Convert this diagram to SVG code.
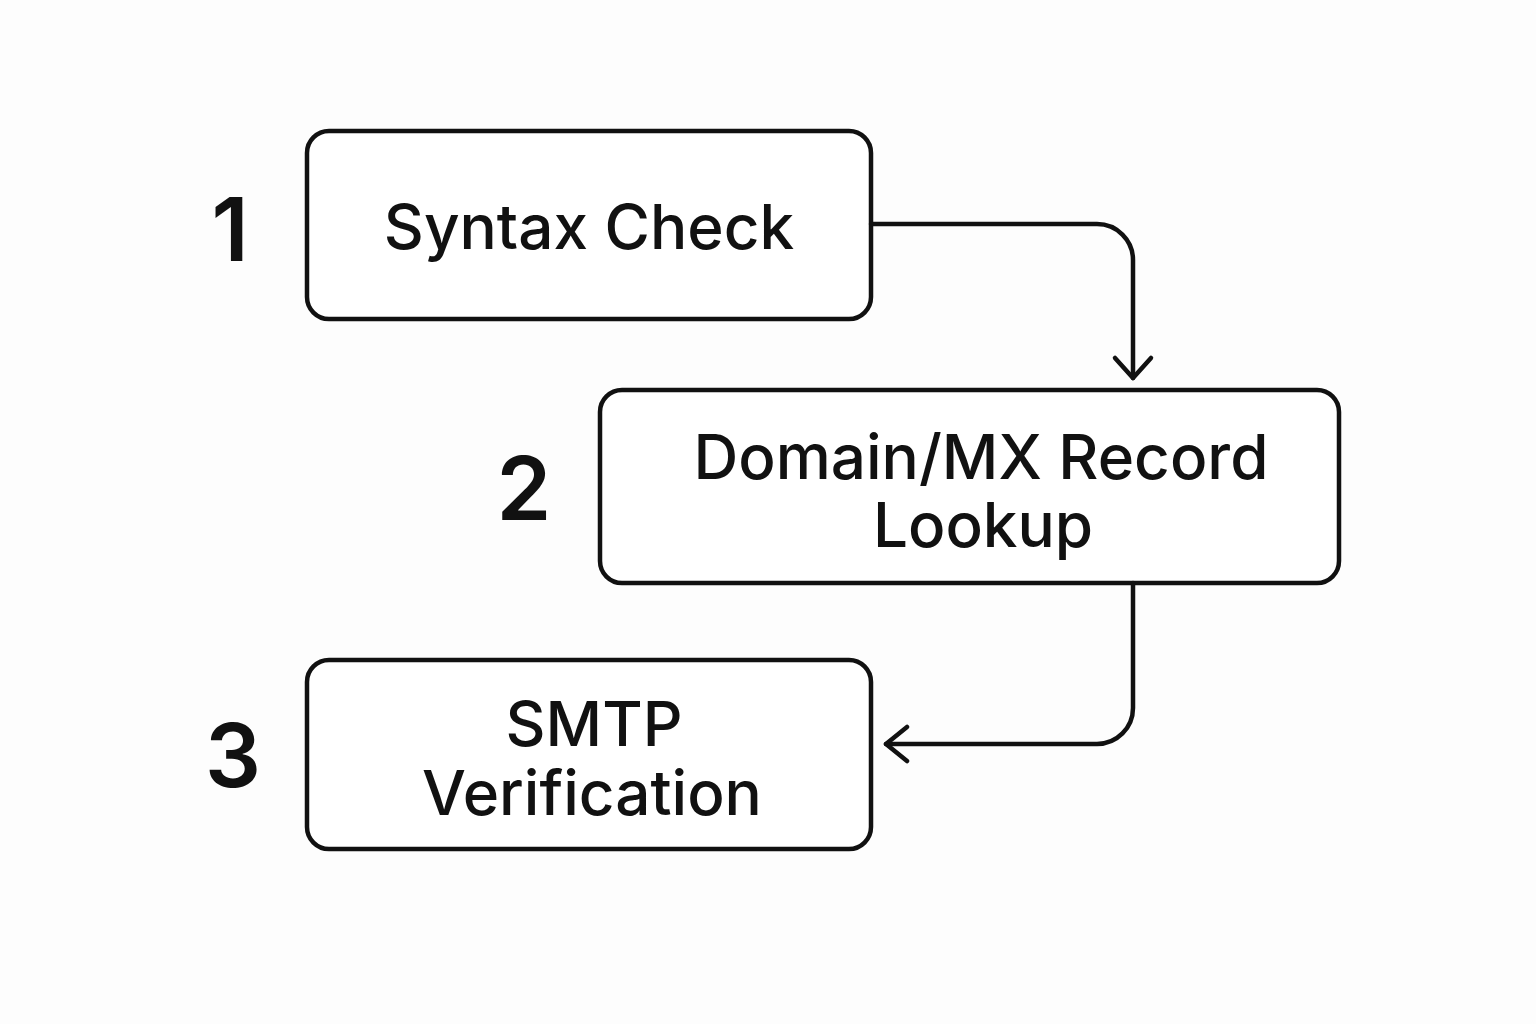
<svg xmlns="http://www.w3.org/2000/svg" width="1536" height="1024" viewBox="0 0 1536 1024">
<style>
.box{fill:#fff;stroke:#111;stroke-width:4.5}
.lbl{font-family:Inter,"Noto Sans",sans-serif;font-weight:500;font-size:62px;fill:#111;text-anchor:middle}
.num{font-family:Inter,"Noto Sans",sans-serif;font-weight:600;font-size:88px;fill:#111;text-anchor:middle}
.con{fill:none;stroke:#111;stroke-width:4.5;stroke-linecap:round;stroke-linejoin:round}
</style>
<rect width="1536" height="1024" fill="#fdfdfd"/>
<g id="node1">
<rect class="box" x="307" y="131" width="564" height="188" rx="22"/>
<text class="lbl" x="589" y="249">Syntax Check</text>
<text class="num" x="230" y="261">1</text>
</g>
<g id="node2">
<rect class="box" x="600" y="390" width="739" height="193" rx="22"/>
<text class="lbl" x="981" y="479">Domain/MX Record</text>
<text class="lbl" x="983" y="547">Lookup</text>
<text class="num" x="524" y="520">2</text>
</g>
<g id="node3">
<rect class="box" x="307" y="660" width="564" height="189" rx="22"/>
<text class="lbl" x="594" y="746">SMTP</text>
<text class="lbl" x="592" y="815">Verification</text>
<text class="num" x="233" y="787">3</text>
</g>
<g id="connectors">
<path class="con" d="M871 224 H1097 A36 36 0 0 1 1133 260 V378"/>
<path class="con" d="M1115 358 L1133 378 L1151 358"/>
<path class="con" d="M1133 583 V708 A36 36 0 0 1 1097 744 H886"/>
<path class="con" d="M907 727 L886 744 L907 761"/>
</g>
</svg>
